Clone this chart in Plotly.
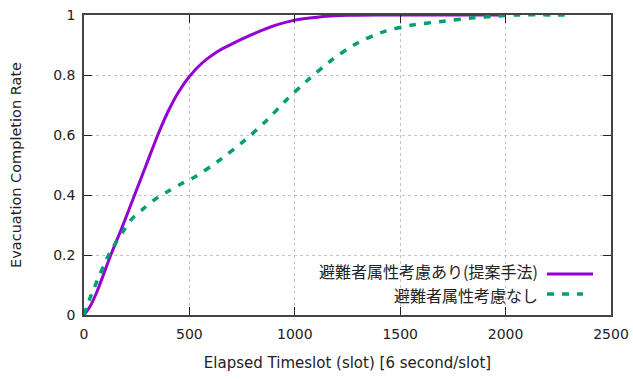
import plotly.graph_objects as go

# Data
with_x = [0, 30, 60, 90, 127, 185, 240, 295, 350, 400, 450, 500, 560, 630, 700, 790, 910, 1000, 1070, 1150, 1250, 1400, 2000]
with_y = [0, 0.03, 0.075, 0.13, 0.2, 0.3, 0.4, 0.5, 0.6, 0.68, 0.745, 0.795, 0.84, 0.877, 0.903, 0.933, 0.966, 0.983, 0.99, 0.996, 0.999, 1.0, 1.0]

without_x = [0, 25, 60, 110, 150, 190, 229, 285, 340, 403, 466, 527, 645, 755, 860, 960, 1065, 1175, 1295, 1420, 1560, 1705, 1850, 1960, 2050, 2280]
without_y = [0, 0.05, 0.11, 0.19, 0.24, 0.283, 0.322, 0.356, 0.387, 0.414, 0.439, 0.461, 0.517, 0.578, 0.644, 0.717, 0.785, 0.85, 0.906, 0.944, 0.967, 0.979, 0.991, 0.996, 1.0, 1.0]

series_names = ["避難者属性考慮あり(提案手法)", "避難者属性考慮なし"]
x_ticks = [0, 500, 1000, 1500, 2000, 2500]
y_ticks = [0, 0.2, 0.4, 0.6, 0.8, 1]
y_tick_text = ["0", "0.2", "0.4", "0.6", "0.8", "1"]

PURPLE = "#9400D3"
GREEN = "#009E73"
DASH = "7px,8px"
TICK_FONT = dict(family="DejaVu Sans", size=14, color="#222")
CJK = "Noto Sans CJK JP"

fig = go.Figure()
fig.add_trace(go.Scatter(x=with_x, y=with_y, mode="lines", name=series_names[0],
                         line=dict(color=PURPLE, width=3, shape="spline", smoothing=0.8)))
fig.add_trace(go.Scatter(x=without_x, y=without_y, mode="lines", name=series_names[1],
                         line=dict(color=GREEN, width=3.5, dash=DASH, shape="spline", smoothing=0.8)))

axis_common = dict(showline=True, linecolor="#444", linewidth=1.5, mirror="allticks",
                   ticks="inside", ticklen=8, tickcolor="#222", tickwidth=1.2,
                   showgrid=True, gridcolor="#c4c4c4", gridwidth=1, griddash="dot",
                   zeroline=False, tickfont=TICK_FONT, automargin=False)

fig.update_xaxes(range=[0, 2500], tickvals=x_ticks, ticklabelstandoff=5,
                 title=dict(text="Elapsed Timeslot (slot) [6 second/slot]",
                            font=dict(family="DejaVu Sans", size=15, color="#222"), standoff=17),
                 **axis_common)
fig.update_yaxes(range=[0, 1], tickvals=y_ticks, ticktext=y_tick_text, ticklabelstandoff=4,
                 title=dict(text="Evacuation Completion Rate",
                            font=dict(family="DejaVu Sans", size=14.5, color="#222"), standoff=28),
                 **axis_common)

# opaque key box hides grid lines in the lower strip
fig.add_shape(type="rect", xref="paper", yref="paper", x0=0.005, x1=0.995, y0=0.005, y1=0.165,
              fillcolor="white", line=dict(width=0), layer="between")

# key (text left of sample, right-aligned as in the reference)
key_rows = [(0.1467, 0.1367, PURPLE, None, 0.9658), (0.0667, 0.07, GREEN, DASH, 0.9469)]
for name, (ty, yy, col, dash, xend) in zip(series_names, key_rows):
    fig.add_annotation(xref="paper", yref="paper", x=0.8634, y=ty, text=name, showarrow=False,
                       xanchor="right", yanchor="middle", borderpad=0,
                       font=dict(family=CJK, size=16, color="#222"))
    fig.add_shape(type="line", xref="paper", yref="paper", x0=0.8786, x1=xend, y0=yy, y1=yy,
                  line=dict(color=col, width=3.5 if dash else 3, dash=dash))

fig.update_layout(width=633, height=379, margin=dict(l=84, r=22, t=15, b=64),
                  plot_bgcolor="white", paper_bgcolor="white", showlegend=False)

fig.write_html("out.html", config={"displayModeBar": False},
               post_script="document.body.style.margin='0';")
